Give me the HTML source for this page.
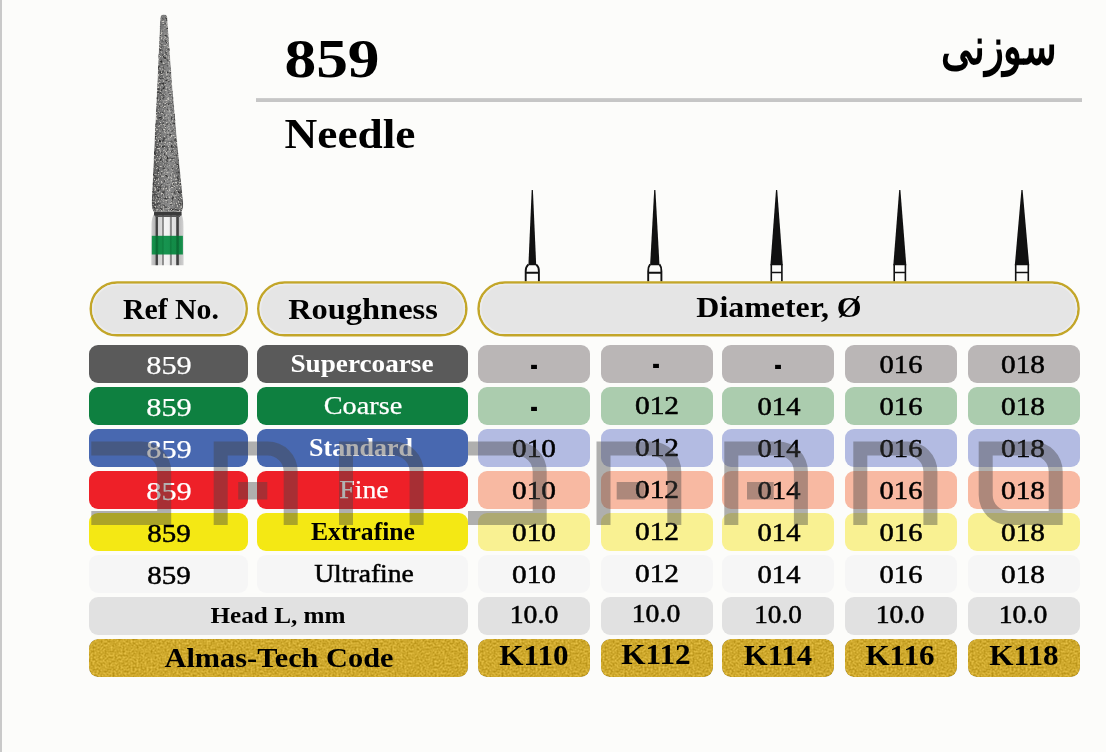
<!DOCTYPE html>
<html lang="en"><head><meta charset="utf-8"><title>859 Needle</title>
<style>
html,body{margin:0;padding:0}
body{width:1106px;height:752px;position:relative;overflow:hidden;background:#fcfcfa;font-family:"Liberation Serif","DejaVu Serif",serif}
.edge{position:absolute;left:0;top:0;width:2px;height:752px;background:#c9c9c9}
.rule{position:absolute;left:256px;top:98px;width:826px;height:4px;background:linear-gradient(#d2d2d2 0,#c6c6c6 30%,#c6c6c6 100%)}
.c{position:absolute;height:37.8px;border-radius:9px}
.gold{filter:url(#gn)}
.pill{position:absolute;top:281px;height:55.5px;box-sizing:border-box;border:3px solid #c4a62a;border-radius:28px;background:#e6e6e6}
.t{position:absolute;width:0;height:0;line-height:0;white-space:nowrap}
.t span{position:absolute;left:0;top:-0.3375em;display:block;line-height:0;transform-origin:50% 50%}
svg{position:absolute;left:0;top:0}
</style></head><body>
<svg width="0" height="0" style="position:absolute"><defs><filter id="gn" x="0" y="0" width="100%" height="100%" color-interpolation-filters="sRGB">
<feTurbulence type="fractalNoise" baseFrequency="0.5" numOctaves="2" seed="11" result="n"/>
<feColorMatrix in="n" type="matrix" values="1 0 0 0 0  1 0 0 0 0  1 0 0 0 0  0 0 0 0 1" result="g"/>
<feComposite in="SourceGraphic" in2="g" operator="arithmetic" k1="0" k2="1" k3="0.32" k4="-0.15" result="c"/>
<feComposite in="c" in2="SourceGraphic" operator="in"/>
</filter></defs></svg>
<div class="edge"></div>
<div class="rule"></div>
<svg class="bur" width="1106" height="752" viewBox="0 0 1106 752">
<defs>
<filter id="grit" x="0" y="0" width="100%" height="100%" color-interpolation-filters="sRGB">
<feTurbulence type="fractalNoise" baseFrequency="0.62" numOctaves="2" seed="7" result="n"/>
<feColorMatrix in="n" type="matrix" values="0 0 0 0 0  0 0 0 0 0  0 0 0 0 0  3.2 3.2 0 0 -3.3" result="a"/>
<feFlood flood-color="#c8c6c0" result="w"/>
<feComposite in="w" in2="a" operator="in" result="specks"/>
<feTurbulence type="fractalNoise" baseFrequency="0.35" numOctaves="2" seed="3" result="n2"/>
<feColorMatrix in="n2" type="matrix" values="0 0 0 0 0  0 0 0 0 0  0 0 0 0 0  0 2.4 2.4 0 -2.45" result="b"/>
<feFlood flood-color="#2c2c2c" result="k"/>
<feComposite in="k" in2="b" operator="in" result="darks"/>
<feMerge result="m"><feMergeNode in="SourceGraphic"/><feMergeNode in="darks"/><feMergeNode in="specks"/></feMerge>
<feComposite in="m" in2="SourceGraphic" operator="in"/>
</filter>
<linearGradient id="cone" x1="0" x2="1" y1="0" y2="0">
<stop offset="0" stop-color="#505050"/><stop offset="0.25" stop-color="#727272"/><stop offset="0.55" stop-color="#8a8a8a"/><stop offset="0.85" stop-color="#747474"/><stop offset="1" stop-color="#5a5a5a"/>
</linearGradient>
<linearGradient id="shank" gradientUnits="userSpaceOnUse" x1="151.3" x2="183.6" y1="0" y2="0">
<stop offset="0" stop-color="#d0d0d0"/><stop offset="0.12" stop-color="#b4b4b4"/>
<stop offset="0.145" stop-color="#3e3e3e"/><stop offset="0.195" stop-color="#484848"/>
<stop offset="0.22" stop-color="#d2d2d2"/><stop offset="0.32" stop-color="#dadada"/>
<stop offset="0.345" stop-color="#8c8c8c"/><stop offset="0.38" stop-color="#949494"/>
<stop offset="0.40" stop-color="#f4f4f4"/><stop offset="0.56" stop-color="#f0f0f0"/>
<stop offset="0.585" stop-color="#888"/><stop offset="0.625" stop-color="#909090"/>
<stop offset="0.65" stop-color="#e4e4e4"/><stop offset="0.765" stop-color="#dcdcdc"/>
<stop offset="0.785" stop-color="#3c3c3c"/><stop offset="0.84" stop-color="#484848"/>
<stop offset="0.86" stop-color="#bcbcbc"/><stop offset="1" stop-color="#d2d2d2"/>
</linearGradient>
<linearGradient id="grn" gradientUnits="userSpaceOnUse" x1="151.3" x2="183.6" y1="0" y2="0">
<stop offset="0" stop-color="#1a9450"/><stop offset="0.12" stop-color="#128a46"/>
<stop offset="0.15" stop-color="#0a6c34"/><stop offset="0.2" stop-color="#0c7238"/>
<stop offset="0.23" stop-color="#138c48"/><stop offset="0.33" stop-color="#138c48"/>
<stop offset="0.36" stop-color="#0e7c3e"/><stop offset="0.40" stop-color="#179450"/>
<stop offset="0.56" stop-color="#16924e"/><stop offset="0.60" stop-color="#0e7a3c"/>
<stop offset="0.65" stop-color="#138c48"/><stop offset="0.765" stop-color="#128a46"/>
<stop offset="0.79" stop-color="#0a6a32"/><stop offset="0.84" stop-color="#0c7038"/>
<stop offset="0.87" stop-color="#128846"/><stop offset="1" stop-color="#1a9450"/>
</linearGradient>
</defs>
<path d="M154.2,214 L181.2,214 Q183.2,217 183.4,224 L183.6,265.3 L151.3,265.3 L151.5,224 Q151.8,217 154.2,214 Z" fill="url(#shank)"/>
<rect x="154" y="211.5" width="27.6" height="4.2" rx="1" fill="#3a3a3a"/>
<rect x="155.5" y="215.6" width="24.5" height="1.4" fill="#555"/>
<rect x="151.8" y="235.8" width="31.1" height="18.7" fill="url(#grn)"/>
<path d="M160.2,18.5 Q160.3,14.6 163.8,14.5 Q167.3,14.6 167.3,18.5 L172.6,90 L177,140 L183.2,203 Q183.4,209 181.5,211.8 L153.8,211.8 Q151.6,209 151.7,203 L154.6,140 L157,90 Z" fill="url(#cone)" filter="url(#grit)"/>
</svg>

<svg width="1106" height="752" viewBox="0 0 1106 752"><polygon points="531.6999999999999,190 532.9,190 536.1999999999999,265.3 528.4,265.3" fill="#111"/><path d="M528.4,264.3 Q525.4,267.3 525.6999999999999,271.3 V281.5 M536.1999999999999,264.3 Q539.1999999999999,267.3 538.9,271.3 V281.5 M525.6999999999999,272.7 H538.9" fill="none" stroke="#111" stroke-width="1.9"/><polygon points="654.1999999999999,190 655.4,190 659.5,265.3 650.0999999999999,265.3" fill="#111"/><path d="M650.0999999999999,264.3 Q647.9,267.3 648.1999999999999,271.3 V281.5 M659.5,264.3 Q661.6999999999999,267.3 661.4,271.3 V281.5 M648.1999999999999,272.7 H661.4" fill="none" stroke="#111" stroke-width="1.9"/><polygon points="776.0,190 777.2,190 782.8000000000001,265.3 770.4,265.3" fill="#111"/><path d="M771.3000000000001,264.3 V281.5 M781.9,264.3 V281.5 M771.3000000000001,272.5 H781.9" fill="none" stroke="#111" stroke-width="1.6"/><polygon points="899.1999999999999,190 900.4,190 906.3,265.3 893.3,265.3" fill="#111"/><path d="M894.1999999999999,264.3 V281.5 M905.4,264.3 V281.5 M894.1999999999999,272.5 H905.4" fill="none" stroke="#111" stroke-width="1.6"/><polygon points="1021.4,190 1022.6,190 1029.2,265.3 1014.8,265.3" fill="#111"/><path d="M1015.7,264.3 V281.5 M1028.3,264.3 V281.5 M1015.7,272.5 H1028.3" fill="none" stroke="#111" stroke-width="1.6"/></svg>
<svg width="1106" height="752" viewBox="0 0 1106 752"><rect x="90.75" y="282.45" width="156.0" height="52.80000000000001" rx="26.400000000000006" fill="#e5e5e5" stroke="#c3a629" stroke-width="2.5"/><rect x="92.8" y="284.5" width="151.9" height="48.70000000000001" rx="24.350000000000005" fill="none" stroke="#ececec" stroke-width="1.6"/><rect x="258.25" y="282.45" width="208.10000000000002" height="52.80000000000001" rx="26.400000000000006" fill="#e5e5e5" stroke="#c3a629" stroke-width="2.5"/><rect x="260.3" y="284.5" width="204.00000000000003" height="48.70000000000001" rx="24.350000000000005" fill="none" stroke="#ececec" stroke-width="1.6"/><rect x="478.55" y="282.45" width="600.0" height="52.80000000000001" rx="26.400000000000006" fill="#e5e5e5" stroke="#c3a629" stroke-width="2.5"/><rect x="480.6" y="284.5" width="595.9" height="48.70000000000001" rx="24.350000000000005" fill="none" stroke="#ececec" stroke-width="1.6"/></svg>
<div class="c " style="left:89px;top:345px;width:159px;background:#5a5a5a"></div>
<div class="c " style="left:257px;top:345px;width:211px;background:#5a5a5a"></div>
<div class="c " style="left:478px;top:345px;width:112px;background:#bab6b6"></div>
<div class="c " style="left:601px;top:345px;width:112px;background:#bab6b6"></div>
<div class="c " style="left:722px;top:345px;width:112px;background:#bab6b6"></div>
<div class="c " style="left:845px;top:345px;width:112px;background:#bab6b6"></div>
<div class="c " style="left:968px;top:345px;width:112px;background:#bab6b6"></div>
<div class="c " style="left:89px;top:387px;width:159px;background:#0e8040"></div>
<div class="c " style="left:257px;top:387px;width:211px;background:#0e8040"></div>
<div class="c " style="left:478px;top:387px;width:112px;background:#abccae"></div>
<div class="c " style="left:601px;top:387px;width:112px;background:#abccae"></div>
<div class="c " style="left:722px;top:387px;width:112px;background:#abccae"></div>
<div class="c " style="left:845px;top:387px;width:112px;background:#abccae"></div>
<div class="c " style="left:968px;top:387px;width:112px;background:#abccae"></div>
<div class="c " style="left:89px;top:429px;width:159px;background:#4868b0"></div>
<div class="c " style="left:257px;top:429px;width:211px;background:#4868b0"></div>
<div class="c " style="left:478px;top:429px;width:112px;background:#b3bbe2"></div>
<div class="c " style="left:601px;top:429px;width:112px;background:#b3bbe2"></div>
<div class="c " style="left:722px;top:429px;width:112px;background:#b3bbe2"></div>
<div class="c " style="left:845px;top:429px;width:112px;background:#b3bbe2"></div>
<div class="c " style="left:968px;top:429px;width:112px;background:#b3bbe2"></div>
<div class="c " style="left:89px;top:471px;width:159px;background:#ee2028"></div>
<div class="c " style="left:257px;top:471px;width:211px;background:#ee2028"></div>
<div class="c " style="left:478px;top:471px;width:112px;background:#f8b9a2"></div>
<div class="c " style="left:601px;top:471px;width:112px;background:#f8b9a2"></div>
<div class="c " style="left:722px;top:471px;width:112px;background:#f8b9a2"></div>
<div class="c " style="left:845px;top:471px;width:112px;background:#f8b9a2"></div>
<div class="c " style="left:968px;top:471px;width:112px;background:#f8b9a2"></div>
<div class="c " style="left:89px;top:513px;width:159px;background:#f4e814"></div>
<div class="c " style="left:257px;top:513px;width:211px;background:#f4e814"></div>
<div class="c " style="left:478px;top:513px;width:112px;background:#f9f192"></div>
<div class="c " style="left:601px;top:513px;width:112px;background:#f9f192"></div>
<div class="c " style="left:722px;top:513px;width:112px;background:#f9f192"></div>
<div class="c " style="left:845px;top:513px;width:112px;background:#f9f192"></div>
<div class="c " style="left:968px;top:513px;width:112px;background:#f9f192"></div>
<div class="c " style="left:89px;top:555px;width:159px;background:#f6f6f6"></div>
<div class="c " style="left:257px;top:555px;width:211px;background:#f6f6f6"></div>
<div class="c " style="left:478px;top:555px;width:112px;background:#f6f6f6"></div>
<div class="c " style="left:601px;top:555px;width:112px;background:#f6f6f6"></div>
<div class="c " style="left:722px;top:555px;width:112px;background:#f6f6f6"></div>
<div class="c " style="left:845px;top:555px;width:112px;background:#f6f6f6"></div>
<div class="c " style="left:968px;top:555px;width:112px;background:#f6f6f6"></div>
<div class="c " style="left:89px;top:597px;width:379px;background:#e1e1e1"></div>
<div class="c " style="left:478px;top:597px;width:112px;background:#e1e1e1"></div>
<div class="c " style="left:601px;top:597px;width:112px;background:#e1e1e1"></div>
<div class="c " style="left:722px;top:597px;width:112px;background:#e1e1e1"></div>
<div class="c " style="left:845px;top:597px;width:112px;background:#e1e1e1"></div>
<div class="c " style="left:968px;top:597px;width:112px;background:#e1e1e1"></div>
<div class="c gold" style="left:89px;top:639px;width:379px;background:#cca62a"></div>
<div class="c gold" style="left:478px;top:639px;width:112px;background:#cca62a"></div>
<div class="c gold" style="left:601px;top:639px;width:112px;background:#cca62a"></div>
<div class="c gold" style="left:722px;top:639px;width:112px;background:#cca62a"></div>
<div class="c gold" style="left:845px;top:639px;width:112px;background:#cca62a"></div>
<div class="c gold" style="left:968px;top:639px;width:112px;background:#cca62a"></div>
<div class="t" style="left:169.00px;top:374.80px;font-size:26.2px;font-weight:400;color:#fff;-webkit-text-stroke:0.25px;"><span style="transform:translate(-50%,0) scaleX(1.1585)">859</span></div>
<div class="t" style="left:362.00px;top:372.90px;font-size:25.5px;font-weight:700;color:#fff;"><span style="transform:translate(-50%,0) scaleX(1.0667)">Supercoarse</span></div>
<div class="t" style="left:534.20px;top:371.50px;font-size:26px;font-weight:700;color:#000;"><span style="transform:translate(-50%,0) scale(0.8700,1.9)">-</span></div>
<div class="t" style="left:656.20px;top:370.50px;font-size:26px;font-weight:700;color:#000;"><span style="transform:translate(-50%,0) scale(0.8700,1.9)">-</span></div>
<div class="t" style="left:778.40px;top:371.50px;font-size:26px;font-weight:700;color:#000;"><span style="transform:translate(-50%,0) scale(0.8700,1.9)">-</span></div>
<div class="t" style="left:900.60px;top:374.00px;font-size:25.6px;font-weight:400;color:#000;-webkit-text-stroke:0.5px;"><span style="transform:translate(-50%,0) scaleX(1.1158)">016</span></div>
<div class="t" style="left:1023.20px;top:374.00px;font-size:25.6px;font-weight:400;color:#000;-webkit-text-stroke:0.5px;"><span style="transform:translate(-50%,0) scaleX(1.1460)">018</span></div>
<div class="t" style="left:169.00px;top:416.80px;font-size:26.2px;font-weight:400;color:#fff;-webkit-text-stroke:0.25px;"><span style="transform:translate(-50%,0) scaleX(1.1585)">859</span></div>
<div class="t" style="left:363.00px;top:414.90px;font-size:25.5px;font-weight:400;color:#fff;-webkit-text-stroke:0.25px;"><span style="transform:translate(-50%,0) scaleX(1.1087)">Coarse</span></div>
<div class="t" style="left:534.20px;top:413.50px;font-size:26px;font-weight:700;color:#000;"><span style="transform:translate(-50%,0) scale(0.8700,1.9)">-</span></div>
<div class="t" style="left:656.70px;top:415.00px;font-size:25.6px;font-weight:400;color:#000;-webkit-text-stroke:0.5px;"><span style="transform:translate(-50%,0) scaleX(1.1504)">012</span></div>
<div class="t" style="left:778.60px;top:416.00px;font-size:25.6px;font-weight:400;color:#000;-webkit-text-stroke:0.5px;"><span style="transform:translate(-50%,0) scaleX(1.1158)">014</span></div>
<div class="t" style="left:900.60px;top:416.00px;font-size:25.6px;font-weight:400;color:#000;-webkit-text-stroke:0.5px;"><span style="transform:translate(-50%,0) scaleX(1.1158)">016</span></div>
<div class="t" style="left:1023.20px;top:416.00px;font-size:25.6px;font-weight:400;color:#000;-webkit-text-stroke:0.5px;"><span style="transform:translate(-50%,0) scaleX(1.1460)">018</span></div>
<div class="t" style="left:169.00px;top:458.80px;font-size:26.2px;font-weight:400;color:#fff;-webkit-text-stroke:0.25px;"><span style="transform:translate(-50%,0) scaleX(1.1585)">859</span></div>
<div class="t" style="left:361.20px;top:456.90px;font-size:25.5px;font-weight:700;color:#fff;"><span style="transform:translate(-50%,0) scaleX(1.0179)">Standard</span></div>
<div class="t" style="left:534.20px;top:458.00px;font-size:25.6px;font-weight:400;color:#000;-webkit-text-stroke:0.5px;"><span style="transform:translate(-50%,0) scaleX(1.1460)">010</span></div>
<div class="t" style="left:656.70px;top:457.00px;font-size:25.6px;font-weight:400;color:#000;-webkit-text-stroke:0.5px;"><span style="transform:translate(-50%,0) scaleX(1.1504)">012</span></div>
<div class="t" style="left:778.60px;top:458.00px;font-size:25.6px;font-weight:400;color:#000;-webkit-text-stroke:0.5px;"><span style="transform:translate(-50%,0) scaleX(1.1158)">014</span></div>
<div class="t" style="left:900.60px;top:458.00px;font-size:25.6px;font-weight:400;color:#000;-webkit-text-stroke:0.5px;"><span style="transform:translate(-50%,0) scaleX(1.1158)">016</span></div>
<div class="t" style="left:1023.20px;top:458.00px;font-size:25.6px;font-weight:400;color:#000;-webkit-text-stroke:0.5px;"><span style="transform:translate(-50%,0) scaleX(1.1460)">018</span></div>
<div class="t" style="left:169.00px;top:500.80px;font-size:26.2px;font-weight:400;color:#fff;-webkit-text-stroke:0.25px;"><span style="transform:translate(-50%,0) scaleX(1.1585)">859</span></div>
<div class="t" style="left:363.50px;top:498.90px;font-size:25.5px;font-weight:400;color:#fff;-webkit-text-stroke:0.25px;"><span style="transform:translate(-50%,0) scaleX(1.0865)">Fine</span></div>
<div class="t" style="left:534.20px;top:500.00px;font-size:25.6px;font-weight:400;color:#000;-webkit-text-stroke:0.5px;"><span style="transform:translate(-50%,0) scaleX(1.1460)">010</span></div>
<div class="t" style="left:656.70px;top:499.00px;font-size:25.6px;font-weight:400;color:#000;-webkit-text-stroke:0.5px;"><span style="transform:translate(-50%,0) scaleX(1.1504)">012</span></div>
<div class="t" style="left:778.60px;top:500.00px;font-size:25.6px;font-weight:400;color:#000;-webkit-text-stroke:0.5px;"><span style="transform:translate(-50%,0) scaleX(1.1158)">014</span></div>
<div class="t" style="left:900.60px;top:500.00px;font-size:25.6px;font-weight:400;color:#000;-webkit-text-stroke:0.5px;"><span style="transform:translate(-50%,0) scaleX(1.1158)">016</span></div>
<div class="t" style="left:1023.20px;top:500.00px;font-size:25.6px;font-weight:400;color:#000;-webkit-text-stroke:0.5px;"><span style="transform:translate(-50%,0) scaleX(1.1460)">018</span></div>
<div class="t" style="left:169.00px;top:542.80px;font-size:26.2px;font-weight:400;color:#000;-webkit-text-stroke:0.5px;"><span style="transform:translate(-50%,0) scaleX(1.1059)">859</span></div>
<div class="t" style="left:362.60px;top:540.90px;font-size:25.5px;font-weight:700;color:#000;"><span style="transform:translate(-50%,0) scaleX(1.0058)">Extrafine</span></div>
<div class="t" style="left:534.20px;top:542.00px;font-size:25.6px;font-weight:400;color:#000;-webkit-text-stroke:0.5px;"><span style="transform:translate(-50%,0) scaleX(1.1460)">010</span></div>
<div class="t" style="left:656.70px;top:541.00px;font-size:25.6px;font-weight:400;color:#000;-webkit-text-stroke:0.5px;"><span style="transform:translate(-50%,0) scaleX(1.1504)">012</span></div>
<div class="t" style="left:778.60px;top:542.00px;font-size:25.6px;font-weight:400;color:#000;-webkit-text-stroke:0.5px;"><span style="transform:translate(-50%,0) scaleX(1.1158)">014</span></div>
<div class="t" style="left:900.60px;top:542.00px;font-size:25.6px;font-weight:400;color:#000;-webkit-text-stroke:0.5px;"><span style="transform:translate(-50%,0) scaleX(1.1158)">016</span></div>
<div class="t" style="left:1023.20px;top:542.00px;font-size:25.6px;font-weight:400;color:#000;-webkit-text-stroke:0.5px;"><span style="transform:translate(-50%,0) scaleX(1.1460)">018</span></div>
<div class="t" style="left:169.00px;top:584.80px;font-size:26.2px;font-weight:400;color:#000;-webkit-text-stroke:0.5px;"><span style="transform:translate(-50%,0) scaleX(1.1059)">859</span></div>
<div class="t" style="left:363.80px;top:582.90px;font-size:25.5px;font-weight:400;color:#000;-webkit-text-stroke:0.5px;"><span style="transform:translate(-50%,0) scaleX(1.0826)">Ultrafine</span></div>
<div class="t" style="left:534.20px;top:584.00px;font-size:25.6px;font-weight:400;color:#000;-webkit-text-stroke:0.5px;"><span style="transform:translate(-50%,0) scaleX(1.1460)">010</span></div>
<div class="t" style="left:656.70px;top:583.00px;font-size:25.6px;font-weight:400;color:#000;-webkit-text-stroke:0.5px;"><span style="transform:translate(-50%,0) scaleX(1.1504)">012</span></div>
<div class="t" style="left:778.60px;top:584.00px;font-size:25.6px;font-weight:400;color:#000;-webkit-text-stroke:0.5px;"><span style="transform:translate(-50%,0) scaleX(1.1158)">014</span></div>
<div class="t" style="left:900.60px;top:584.00px;font-size:25.6px;font-weight:400;color:#000;-webkit-text-stroke:0.5px;"><span style="transform:translate(-50%,0) scaleX(1.1158)">016</span></div>
<div class="t" style="left:1023.20px;top:584.00px;font-size:25.6px;font-weight:400;color:#000;-webkit-text-stroke:0.5px;"><span style="transform:translate(-50%,0) scaleX(1.1460)">018</span></div>
<div class="t" style="left:278.40px;top:623.30px;font-size:24px;font-weight:700;color:#000;"><span style="transform:translate(-50%,0) scaleX(1.0500)">Head L, mm</span></div>
<div class="t" style="left:533.70px;top:623.90px;font-size:25.8px;font-weight:400;color:#000;-webkit-text-stroke:0.5px;"><span style="transform:translate(-50%,0) scaleX(1.0746)">10.0</span></div>
<div class="t" style="left:655.70px;top:622.90px;font-size:25.8px;font-weight:400;color:#000;-webkit-text-stroke:0.5px;"><span style="transform:translate(-50%,0) scaleX(1.0746)">10.0</span></div>
<div class="t" style="left:778.10px;top:623.90px;font-size:25.8px;font-weight:400;color:#000;-webkit-text-stroke:0.5px;"><span style="transform:translate(-50%,0) scaleX(1.0534)">10.0</span></div>
<div class="t" style="left:900.10px;top:623.90px;font-size:25.8px;font-weight:400;color:#000;-webkit-text-stroke:0.5px;"><span style="transform:translate(-50%,0) scaleX(1.0746)">10.0</span></div>
<div class="t" style="left:1022.70px;top:623.90px;font-size:25.8px;font-weight:400;color:#000;-webkit-text-stroke:0.5px;"><span style="transform:translate(-50%,0) scaleX(1.0746)">10.0</span></div>
<div class="t" style="left:278.70px;top:667.50px;font-size:27.3px;font-weight:700;color:#000;"><span style="transform:translate(-50%,0) scaleX(1.1117)">Almas-Tech Code</span></div>
<div class="t" style="left:534.30px;top:665.90px;font-size:28.5px;font-weight:700;color:#000;"><span style="transform:translate(-50%,0) scaleX(1.0936)">K110</span></div>
<div class="t" style="left:656.30px;top:664.90px;font-size:28.5px;font-weight:700;color:#000;"><span style="transform:translate(-50%,0) scaleX(1.0936)">K112</span></div>
<div class="t" style="left:778.20px;top:665.90px;font-size:28.5px;font-weight:700;color:#000;"><span style="transform:translate(-50%,0) scaleX(1.0780)">K114</span></div>
<div class="t" style="left:900.20px;top:665.90px;font-size:28.5px;font-weight:700;color:#000;"><span style="transform:translate(-50%,0) scaleX(1.0921)">K116</span></div>
<div class="t" style="left:1024.30px;top:665.90px;font-size:28.5px;font-weight:700;color:#000;"><span style="transform:translate(-50%,0) scaleX(1.0936)">K118</span></div>
<div class="t" style="left:170.90px;top:318.50px;font-size:29.5px;font-weight:700;color:#000;"><span style="transform:translate(-50%,0) scaleX(1.0086)">Ref No.</span></div>
<div class="t" style="left:363.00px;top:318.50px;font-size:29.5px;font-weight:700;color:#000;"><span style="transform:translate(-50%,0) scaleX(1.0993)">Roughness</span></div>
<div class="t" style="left:779.20px;top:316.50px;font-size:29.5px;font-weight:700;color:#000;"><span style="transform:translate(-50%,0) scaleX(1.0808)">Diameter, Ø</span></div>
<div class="t" style="left:331.60px;top:77.60px;font-size:55px;font-weight:700;color:#000;"><span style="transform:translate(-50%,0) scaleX(1.1544)">859</span></div>
<div class="t" style="left:350.00px;top:147.60px;font-size:41.5px;font-weight:700;color:#000;"><span style="transform:translate(-50%,0) scaleX(1.0925)">Needle</span></div>
<div class="t" style="left:998.50px;top:62.90px;font-size:44px;font-weight:700;color:#000;font-family:"DejaVu Sans",sans-serif;direction:rtl;-webkit-text-stroke:0.5px;"><span style="transform:translate(-50%,0) scale(0.8880,1.16)">سوزنی</span></div>
<svg width="1106" height="752" viewBox="0 0 1106 752"><path d="M91.3,441.5 H141.2 A30,30 0 0 1 171.2,471.5 V525 H91.3 V511 H157.2 V471.5 A16,16 0 0 0 141.2,455.5 H91.3 Z M213.7,441.5 H267.7 A30,30 0 0 1 297.7,471.5 V525 H283.7 V471.5 A16,16 0 0 0 267.7,455.5 H227.7 V525 H213.7 Z M238.2,482 H267.3 V499.5 H238.2 Z M339,441.5 H393.6 A30,30 0 0 1 423.6,471.5 V525 H409.6 V471.5 A16,16 0 0 0 393.6,455.5 H353 V525 H339 Z M468,441.5 H516.7 A30,30 0 0 1 546.7,471.5 V525 H468 V511 H532.7 V471.5 A16,16 0 0 0 516.7,455.5 H468 Z M596.5,441.5 H651.3 A30,30 0 0 1 681.3,471.5 V525 H667.3 V471.5 A16,16 0 0 0 651.3,455.5 H610.5 V525 H596.5 Z M616.7,482 H644.7 V499.5 H616.7 Z M724.3,441.5 H777.9 A30,30 0 0 1 807.9,471.5 V525 H793.9 V471.5 A16,16 0 0 0 777.9,455.5 H738.3 V525 H724.3 Z M747,482 H773.7 V499.5 H747 Z M853.3,441.5 H907.4 A30,30 0 0 1 937.4,471.5 V525 H923.4 V471.5 A16,16 0 0 0 907.4,455.5 H867.3 V525 H853.3 Z M978.7,441.5 H1032.7 A30,30 0 0 1 1062.7,471.5 V525 H1008.7 A30,30 0 0 1 978.7,495 Z M992.7,455.5 V495 A16,16 0 0 0 1008.7,511 H1048.7 V471.5 A16,16 0 0 0 1032.7,455.5 Z" fill="rgba(70,70,70,0.42)" fill-rule="evenodd"/></svg>
</body></html>
